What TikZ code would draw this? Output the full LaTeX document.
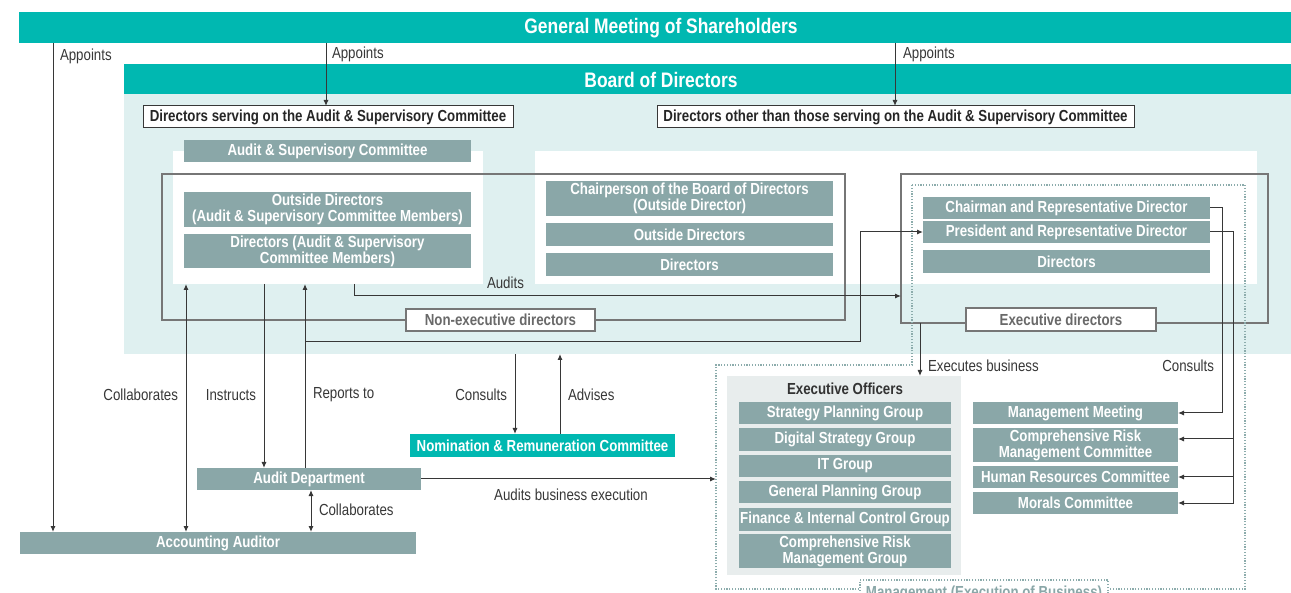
\documentclass[tikz,border=0pt]{standalone}
\usepackage{fontspec}
\setmainfont{Liberation Sans}[FakeStretch=0.83]
\usetikzlibrary{arrows.meta}

\definecolor{brandteal}{RGB}{0,184,177}
\definecolor{boxgray}{RGB}{138,167,168}
\definecolor{bgteal}{RGB}{223,240,240}
\definecolor{panelgray}{RGB}{232,237,237}
\definecolor{dotcol}{RGB}{140,172,172}
\definecolor{framegray}{RGB}{118,118,118}
\definecolor{labelgray}{RGB}{105,105,105}
\definecolor{inkdark}{RGB}{55,55,55}

\begin{document}
\begin{tikzpicture}[x=1pt,y=-1pt,
  every node/.style={inner sep=0pt,outer sep=0pt},
  reg/.style={font=\fontsize{16}{16}\selectfont, text=inkdark},
  bold/.style={font=\fontsize{16}{16}\selectfont\bfseries},
  gbox/.style={bold, fill=boxgray, text=white, align=center},
  tbar/.style={fill=brandteal},
  titletext/.style={font=\fontsize{21}{21}\selectfont\bfseries, text=white},
  hbox/.style={bold, fill=white, draw=inkdark, line width=1pt, text=black!85},
  flabel/.style={bold, fill=white, draw=framegray, line width=1.2pt, text=labelgray},
  wpanel/.style={fill=white},
  framebox/.style={draw=framegray, line width=1.3pt},
  dotline/.style={draw=dotcol, line width=1.2pt, dash pattern=on 1.2pt off 1.6pt},
  arr/.style={draw=inkdark, line width=1pt, -{Latex[length=6pt,width=5pt]}},
  darr/.style={draw=inkdark, line width=1pt, {Latex[length=6pt,width=5pt]}-{Latex[length=6pt,width=5pt]}},
]
\useasboundingbox (0,0) rectangle (1291,593);
\clip (0,0) rectangle (1291,593);

% board area background
\node[fill=bgteal, minimum width=1167pt, minimum height=260pt] (bg) at (707.5,224) {};

% top bars
\node[tbar, minimum width=1284pt, minimum height=31pt] (gms) at (661,27.5) {};
\node[titletext] (gmstext) at (661,28) {General Meeting of Shareholders};
\node[tbar, minimum width=1167pt, minimum height=30pt] (bod) at (707.5,79) {};
\node[titletext] (bodtext) at (661,79.5) {Board of Directors};

% white panels
\node[wpanel, minimum width=310pt, minimum height=133pt] (ascpanel) at (328,217.5) {};
\node[wpanel, minimum width=722pt, minimum height=133pt] (dirpanel) at (896,217.5) {};

% director group frames
\node[framebox, minimum width=683pt, minimum height=146pt] (nonexec) at (503.5,247) {};
\node[framebox, minimum width=367pt, minimum height=149pt] (execfr) at (1084.5,248.5) {};

% management (execution of business) frame
\draw[dotline] (912,185) -- (1245,185) -- (1245,589) -- (716,589) -- (716,365) -- (912,365) -- cycle;
\node[fill=white, draw=dotcol, line width=1.2pt, dash pattern=on 1.2pt off 1.6pt,
      minimum width=248pt, minimum height=26pt] (mgmt) at (984,593) {};
\node[bold, text=boxgray, anchor=base] (mgmttext) at (984,597) {Management (Execution of Business)};

% board sub-headings
\node[hbox, minimum width=370pt, minimum height=22pt] (ascdir) at (328,117)
  {Directors serving on the Audit \& Supervisory Committee};
\node[hbox, minimum width=477pt, minimum height=22pt] (othdir) at (895.5,117)
  {Directors other than those serving on the Audit \& Supervisory Committee};

% audit & supervisory committee
\node[gbox, minimum width=287pt, minimum height=22pt] (asc) at (327.5,151) {Audit \& Supervisory Committee};
\node[gbox, minimum width=287pt, minimum height=35pt] (outasc) at (327.5,209.5)
  {Outside Directors\\(Audit \& Supervisory Committee Members)};
\node[gbox, minimum width=287pt, minimum height=34pt] (dirasc) at (327.5,251)
  {Directors (Audit \& Supervisory\\Committee Members)};

% non-executive directors
\node[gbox, minimum width=287pt, minimum height=35pt] (chairp) at (689.5,198.5)
  {Chairperson of the Board of Directors\\(Outside Director)};
\node[gbox, minimum width=287pt, minimum height=23pt] (outdir) at (689.5,234.5) {Outside Directors};
\node[gbox, minimum width=287pt, minimum height=23pt] (dirs) at (689.5,264.5) {Directors};
\node[flabel, minimum width=189pt, minimum height=22pt] (nonexeclbl) at (500.5,320) {Non-executive directors};

% executive directors
\node[gbox, minimum width=287pt, minimum height=22pt] (chairman) at (1066.5,208) {Chairman and Representative Director};
\node[gbox, minimum width=287pt, minimum height=22pt] (president) at (1066.5,232) {President and Representative Director};
\node[gbox, minimum width=287pt, minimum height=23pt] (execdirs) at (1066.5,261.5) {Directors};
\node[flabel, minimum width=190pt, minimum height=23pt] (execlbl) at (1061,319.5) {Executive directors};

% audit bodies
\node[gbox, minimum width=224pt, minimum height=22pt] (ad) at (309,479) {Audit Department};
\node[gbox, minimum width=396pt, minimum height=22pt] (aa) at (218,543) {Accounting Auditor};
\node[gbox, fill=brandteal, minimum width=265pt, minimum height=23pt] (nrc) at (542.5,445.5)
  {Nomination \& Remuneration Committee};

% executive officers
\node[fill=panelgray, minimum width=234pt, minimum height=199pt] (eo) at (844,475.5) {};
\node[bold, text=black!80] (eotitle) at (845,389) {Executive Officers};
\node[gbox, minimum width=212pt, minimum height=22pt] (spg) at (845,413) {Strategy Planning Group};
\node[gbox, minimum width=212pt, minimum height=23pt] (dsg) at (845,439.5) {Digital Strategy Group};
\node[gbox, minimum width=212pt, minimum height=22pt] (itg) at (845,466) {IT Group};
\node[gbox, minimum width=212pt, minimum height=22pt] (gpg) at (845,492) {General Planning Group};
\node[gbox, minimum width=212pt, minimum height=23pt] (ficg) at (845,519.5) {Finance \& Internal Control Group};
\node[gbox, minimum width=212pt, minimum height=34pt] (crmg) at (845,551)
  {Comprehensive Risk\\Management Group};

% meetings and committees
\node[gbox, minimum width=205pt, minimum height=22pt] (mm) at (1075.5,413) {Management Meeting};
\node[gbox, minimum width=205pt, minimum height=34pt] (crmc) at (1075.5,445)
  {Comprehensive Risk\\Management Committee};
\node[gbox, minimum width=205pt, minimum height=22pt] (hr) at (1075.5,477) {Human Resources Committee};
\node[gbox, minimum width=205pt, minimum height=22pt] (morals) at (1075.5,503) {Morals Committee};

% connectors
\draw[arr] (gms.south -| 53,0) -- (aa.north -| 53,0);
\draw[arr] (gms.south -| 326,0) -- (ascdir.north -| 326,0);
\draw[arr] (gms.south -| 895,0) -- (othdir.north -| 895,0);
\node[reg, anchor=west] (lapp1) at (60,56) {Appoints};
\node[reg, anchor=west] (lapp2) at (332,54) {Appoints};
\node[reg, anchor=west] (lapp3) at (903,54) {Appoints};

\draw[arr] (ascpanel.south -| 354,0) |- (execfr.west |- 0,296);
\node[reg, anchor=west] (laudits) at (487,283) {Audits};

\draw[darr] (ascpanel.south -| 186,0) -- (aa.north -| 186,0);
\draw[arr] (ascpanel.south -| 264,0) -- (ad.north -| 264,0);
\draw[arr] (ad.north -| 305,0) -- (ascpanel.south -| 305,0);
\coordinate (rj) at (305,342);
\draw[arr] (rj) -| (president.west -| 860,0) -- (president.west);
\node[reg, anchor=east] (lcollab1) at (178,395) {Collaborates};
\node[reg, anchor=east] (linstr) at (256,395) {Instructs};
\node[reg, anchor=west] (lrep) at (313,395) {Reports to};

\draw[darr] (ad.south -| 311,0) -- (aa.north -| 311,0);
\node[reg, anchor=west] (lcollab2) at (319,510) {Collaborates};

\draw[arr] (bg.south -| 515,0) -- (nrc.north -| 515,0);
\draw[arr] (nrc.north -| 560,0) -- (bg.south -| 560,0);
\node[reg, anchor=east] (lcons1) at (507,395) {Consults};
\node[reg, anchor=west] (ladv) at (568,395) {Advises};

\coordinate (mgmtL) at (716,479);
\draw[arr] (ad.east) -- (mgmtL);
\node[reg] (labe) at (571,495) {Audits business execution};

\draw[arr] (execfr.south -| 920,0) -- (eo.north -| 920,0);
\node[reg, anchor=west] (lexec) at (928,366) {Executes business};

\coordinate (cs1) at (1222,0);
\coordinate (cs2) at (1233,0);
\draw[arr] (chairman.east) -| (cs1 |- mm.east) -- (mm.east);
\draw[arr] (president.east) -| (cs2 |- morals.east) -- (morals.east);
\draw[arr] (cs2 |- 0,439) -- (crmc.east |- 0,439);
\draw[arr] (cs2 |- hr.east) -- (hr.east);
\node[reg, anchor=east] (lcons2) at (1214,366) {Consults};
\end{tikzpicture}
\end{document}
